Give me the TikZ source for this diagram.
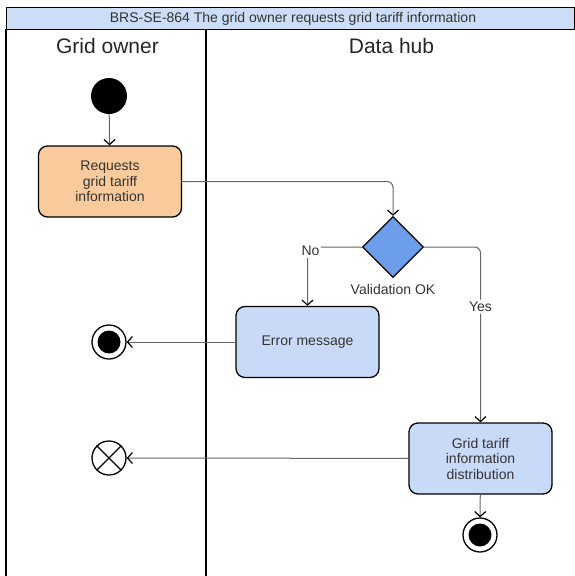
\documentclass[tikz,border=0pt]{standalone}
\usepackage{fontspec}
\setmainfont{Liberation Sans}
\usetikzlibrary{shapes.geometric,arrows.meta,positioning}
\definecolor{reqorange}{HTML}{F9CB9C}
\definecolor{actblue}{HTML}{C9DAF8}
\definecolor{decblue}{HTML}{6D9EEB}
\definecolor{titleblue}{HTML}{CCDDF7}
\definecolor{txtgray}{HTML}{333333}
\definecolor{linegray}{HTML}{666666}

\begin{document}
\begin{tikzpicture}[x=1pt,y=1pt]
      \tikzstyle{every node}+=[inner sep=0pt]
      \tikzstyle{act}=[draw=black, line width=1.3pt, rounded corners=9pt, minimum width=143pt, minimum height=71pt, align=center, text=txtgray, font=\fontsize{14}{15.5}\selectfont]
      \tikzstyle{flow}=[draw=linegray, line width=1pt, rounded corners=6pt, -{Straight Barb[length=5pt,width=11pt,line width=1.2pt,color=black]}]
      \tikzstyle{endring}=[circle, draw=black, line width=1.3pt, minimum size=34pt]
      \tikzstyle{lbl}=[text=txtgray, font=\fontsize{14}{15}\selectfont]
      \tikzstyle{lane}=[text=black!85, font=\fontsize{21}{23}\selectfont]
      \useasboundingbox (0,0) rectangle (574,-576);
      \draw [black, line width=1pt, fill=titleblue] (6,-7) rectangle (574,-29);
      \node [lbl] (title) at (293,-18.5) {BRS-SE-864 The grid owner requests grid tariff information};
      \draw [black, line width=1.5pt] (6,-29) -- (6,-576);
      \draw [black, line width=1.5pt] (206,-29) -- (206,-576);
      \node [lane] (laneA) at (107.5,-45.5) {Grid owner};
      \node [lane] (laneB) at (391.5,-45.5) {Data hub};
      \node [circle, fill=black, minimum size=36pt] (start) at (109,-96) {};
      \node [act, fill=reqorange] (request) at (110,-181.5) {Requests\\grid tariff\\information};
      \node [diamond, draw=black, line width=1.3pt, fill=decblue, minimum width=61pt, minimum height=61pt] (valid) at (393,-247) {};
      \node [lbl, below=6pt of valid] (validtxt) {Validation OK};
      \node [act, fill=actblue] (error) at (307.5,-342) {Error message};
      \node [act, fill=actblue] (distrib) at (480.5,-458.5) {Grid tariff\\information\\distribution};
      \node [endring] (errend) at (109,-342) {};
      \fill [black] (errend.center) circle (11.5);
      \node [circle, draw=black, line width=1.3pt, minimum size=34pt] (flowend) at (109,-458) {};
      \draw [black, line width=1.3pt] (flowend.north west) -- (flowend.south east);
      \draw [black, line width=1.3pt] (flowend.north east) -- (flowend.south west);
      \node [endring] (distend) at (480,-535) {};
      \fill [black] (distend.center) circle (11.5);
      \draw [flow] (start) -- (request);
      \draw [flow] (request.east) -| (valid.north);
      \draw [flow] (valid.west) -| node [lbl, pos=0.5, fill=white, inner sep=2pt, xshift=3pt, yshift=-4pt] (nolbl) {No} (error.north);
      \draw [flow] (valid.east) -| node [lbl, pos=0.67, fill=white, inner sep=2pt] (yeslbl) {Yes} (distrib.north);
      \draw [flow] (error) -- (errend);
      \draw [flow] (distrib) -- (flowend);
      \draw [flow] (distrib) -- (distend);
\end{tikzpicture}
\end{document}
